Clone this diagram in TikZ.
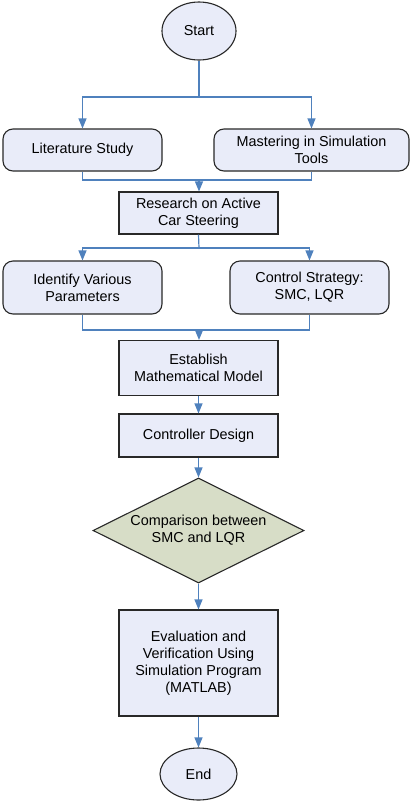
\documentclass[tikz,border=0pt]{standalone}
\usepackage{fontspec}
\setmainfont{Liberation Sans}
\usetikzlibrary{shapes.geometric,arrows.meta}
\definecolor{boxfill}{RGB}{233,236,249}
\definecolor{dfill}{RGB}{215,221,199}
\definecolor{lineblue}{RGB}{79,129,189}
\definecolor{edge}{RGB}{40,40,40}
\begin{document}
\begin{tikzpicture}[x=1pt,y=-1pt,
  base/.style={draw=edge,line width=1.1pt,fill=boxfill,align=center,inner sep=2pt,
    font=\fontsize{14.4}{17}\selectfont},
  rbox/.style={base,rectangle,rounded corners=10pt},
  sbox/.style={base,rectangle},
  oval/.style={base,ellipse},
  dec/.style={base,diamond,fill=dfill,inner sep=0pt,aspect=2},
  conn/.style={draw=lineblue,line width=1.2pt},
  arr/.style={conn,-{Triangle[width=8pt,length=10pt]}}]
\useasboundingbox (0,0) rectangle (410,812);
\node[oval,minimum width=74pt,minimum height=58pt] (start) at (199,31) {Start};
\node[rbox,minimum width=159pt,minimum height=42pt] (lit) at (82.5,150) {Literature Study};
\node[rbox,minimum width=195pt,minimum height=42pt] (mast) at (311.5,150) {Mastering in Simulation\\Tools};
\node[sbox,minimum width=159pt,minimum height=42pt] (res) at (198.5,213) {Research on Active\\Car Steering};
\node[rbox,minimum width=159pt,minimum height=53pt] (ident) at (82.5,287.5) {Identify Various\\Parameters};
\node[rbox,minimum width=159pt,minimum height=53pt] (ctrl) at (309.5,287.5) {Control Strategy:\\SMC, LQR};
\node[sbox,minimum width=159pt,minimum height=55pt] (est) at (198.5,368) {Establish\\Mathematical Model};
\node[sbox,minimum width=159pt,minimum height=43pt] (cd) at (198.5,435.5) {Controller Design};
\node[dec,minimum width=211pt,minimum height=105pt] (cmp) at (198.5,530.5) {Comparison between\\SMC and LQR};
\node[sbox,minimum width=159pt,minimum height=106pt] (eval) at (198.5,663) {Evaluation and\\Verification Using\\Simulation Program\\(MATLAB)};
\node[oval,minimum width=77pt,minimum height=52pt] (end) at (198.5,774) {End};
\coordinate (b1) at (199,97);
\coordinate (m1) at (199,180);
\coordinate (b2) at (199,248);
\coordinate (m2) at (199,330);
\draw[conn] (start.south) -- (b1);
\draw[arr] (b1) -| (lit.north);
\draw[arr] (b1) -| (mast.north);
\draw[conn] (lit.south) |- (m1) -| (mast.south);
\draw[arr] (m1) -- (m1 |- res.north);
\draw[conn] (res.south) -- (b2);
\draw[arr] (b2) -| (ident.north);
\draw[arr] (b2) -| (ctrl.north);
\draw[conn] (ident.south) |- (m2) -| (ctrl.south);
\draw[arr] (m2) -- (m2 |- est.north);
\draw[arr] (est) -- (cd);
\draw[arr] (cd) -- (cmp);
\draw[arr] (cmp) -- (eval);
\draw[arr] (eval) -- (end);
\end{tikzpicture}
\end{document}
